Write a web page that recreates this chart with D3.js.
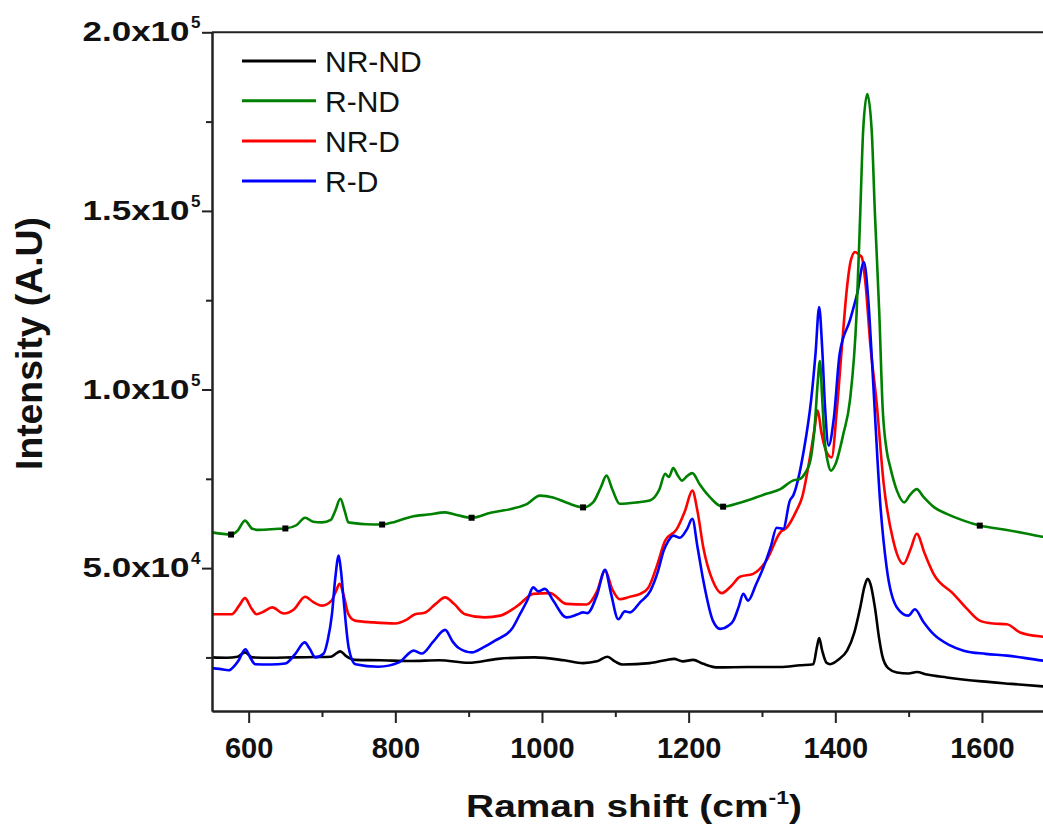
<!DOCTYPE html>
<html>
<head>
<meta charset="utf-8">
<script src="https://cdn.jsdelivr.net/npm/d3@7"></script>
<style>
  body { margin: 0; background: #fff; }
  text { font-family: Arial, "Liberation Sans", sans-serif; fill: #111; }
</style>
</head>
<body>
<div class="chart-box"></div>
<script>
// Raman spectra, [shift (cm-1), intensity / 1000]
const nrNd = [
  [550,25.0],[570,24.9],[585,25.2],[595,26.4],[605,25.0],[630,24.9],[660,25.0],[690,25.1],
  [712,25.2],[720,26.2],[725,26.7],[732,25.5],[745,24.3],[780,24.2],[820,24.0],[860,24.2],
  [900,23.5],[940,24.6],[990,25.0],[1030,24.2],[1056,23.4],[1075,23.9],[1089,25.2],[1100,23.8],
  [1110,23.0],[1147,23.4],[1170,24.3],[1180,24.6],[1192,23.9],[1206,24.3],[1220,23.2],[1240,22.2],
  [1280,22.3],[1325,22.3],[1352,22.8],[1370,23.1],[1375,28.0],[1378,30.4],[1382,27.0],[1388,23.5],
  [1393,23.1],[1405,24.5],[1416,26.9],[1426,32.0],[1434,39.0],[1440,45.0],[1444,47.0],[1448,45.5],
  [1454,39.0],[1460,30.0],[1464,25.5],[1472,22.0],[1484,20.8],[1500,20.5],[1511,20.9],[1525,20.2],
  [1552,19.4],[1600,18.3],[1640,17.6],[1700,16.6]
];
const rNd = [
  [550,60.0],[576,59.4],[585,60.5],[595,63.3],[605,61.0],[614,60.7],[640,61.0],[650,61.1],
  [665,62.0],[677,64.1],[688,63.0],[700,62.8],[712,63.5],[718,66.0],[725,69.4],[731,66.0],
  [736,62.8],[760,62.3],[782,62.2],[800,63.0],[822,64.4],[845,65.0],[868,65.6],[885,64.8],
  [904,64.1],[930,65.5],[959,66.6],[980,68.0],[997,70.3],[1015,69.8],[1035,68.2],[1056,67.0],
  [1070,68.5],[1080,72.5],[1088,75.9],[1096,72.0],[1106,68.0],[1130,68.4],[1147,68.9],[1160,72.0],
  [1168,76.4],[1173,75.5],[1179,78.0],[1185,76.0],[1191,74.5],[1198,75.8],[1205,76.6],[1215,73.5],
  [1225,70.8],[1247,67.2],[1270,68.3],[1306,70.8],[1325,72.1],[1342,74.5],[1352,75.0],[1360,77.0],
  [1366,80.1],[1372,90.0],[1376,102.0],[1379,108.0],[1382,98.0],[1385,87.0],[1390,79.5],[1394,77.3],
  [1400,79.0],[1411,87.6],[1420,97.0],[1429,121.2],[1434,149.3],[1438,172.6],[1443.6,182.7],
  [1449.6,172.6],[1454,149.3],[1460,121.2],[1464.5,95.1],[1470,83.0],[1475,78.2],[1484,71.7],
  [1494,68.4],[1502,70.5],[1511,72.1],[1520,70.0],[1535,67.0],[1552,65.2],[1575,63.3],[1597,61.9],
  [1630,60.8],[1660,59.7],[1683,58.8],[1700,58.5]
];
const nrD = [
  [550,37.1],[577,37.1],[587,39.5],[595,41.6],[603,39.0],[611,37.1],[620,37.8],[632,39.0],
  [648,37.3],[662,38.5],[677,42.0],[688,40.5],[700,39.5],[713,40.9],[719,43.5],[724,45.6],
  [730,42.0],[736,37.1],[745,35.3],[770,34.8],[800,34.5],[815,35.5],[827,37.1],[840,37.5],
  [855,40.0],[868,41.8],[880,40.0],[895,37.1],[922,36.2],[943,36.7],[960,38.5],[970,40.0],
  [988,42.8],[1011,43.0],[1033,40.0],[1061,39.8],[1075,43.5],[1086,49.3],[1096,44.0],[1106,41.3],
  [1120,42.0],[1134,42.8],[1145,44.5],[1156,50.2],[1168,57.7],[1184,61.0],[1195,66.0],[1205,71.7],
  [1212,66.0],[1220,55.8],[1233,46.4],[1245,43.0],[1258,45.0],[1270,47.6],[1288,48.4],[1306,52.1],
  [1325,60.0],[1334,61.4],[1347,66.1],[1355,70.0],[1363,78.2],[1371,88.0],[1376,94.1],[1381,88.0],
  [1388,82.5],[1395,81.0],[1402,94.0],[1409,111.9],[1416,128.7],[1421,136.0],[1427,138.5],
  [1432,137.8],[1436,137.1],[1441,130.0],[1448,112.0],[1456,97.0],[1466,73.6],[1479,57.7],
  [1493,51.2],[1503,55.5],[1511,59.6],[1522,54.0],[1534,48.4],[1561,42.8],[1580,38.5],[1597,35.3],
  [1615,34.5],[1634,34.3],[1652,32.0],[1683,30.8],[1700,30.5]
];
const rD = [
  [550,22.0],[560,21.8],[573,21.4],[580,22.5],[586,24.1],[595.5,27.3],[602,25.0],[609,23.1],
  [630,23.0],[650,23.3],[663.6,26.0],[676.4,29.2],[683,27.5],[691,25.0],[702,26.0],[708,30.0],
  [713.6,37.1],[718,47.0],[722.8,53.5],[726,49.0],[729.6,40.9],[736.4,27.7],[745.5,23.1],[777,22.4],
  [805,23.6],[825,26.9],[836,26.1],[852,29.5],[868,32.7],[878,29.5],[886,27.7],[904.5,26.4],
  [920,27.8],[936,29.7],[959,33.0],[970,37.1],[980,41.0],[988,44.6],[995,43.5],[1004,44.2],
  [1015,41.0],[1033.6,36.2],[1048,37.0],[1056,37.6],[1062,37.4],[1075,42.5],[1086,49.5],[1094,43.0],
  [1104,35.7],[1113,37.9],[1120,37.6],[1134,40.5],[1148,43.7],[1158,49.0],[1166,54.9],[1172,57.5],
  [1179,59.1],[1188,58.5],[1198,61.0],[1205,63.8],[1212,56.0],[1220,46.5],[1233,35.3],[1243,33.0],
  [1255,34.0],[1261,35.3],[1268,39.0],[1274.5,42.8],[1281,40.9],[1292,45.5],[1302,50.2],[1312,56.0],
  [1320,61.3],[1329,61.0],[1338,68.9],[1343,70.5],[1357,82.9],[1367,97.0],[1373,110.0],[1378,123.1],
  [1382,112.0],[1386,95.0],[1391,84.3],[1398,92.0],[1406,110.1],[1420,119.4],[1430,127.0],
  [1439,135.7],[1445,125.0],[1450,108.0],[1453,97.0],[1461,68.9],[1470,50.2],[1484,39.0],
  [1499.5,36.7],[1508.6,38.5],[1520,35.0],[1534,31.5],[1555,28.5],[1575,26.9],[1605,26.0],
  [1634,25.5],[1660,24.8],[1683,24.1],[1700,23.8]
];
// square symbols sitting on the R-ND trace
const rNdMarkers = [[576,59.4],[650,61.1],[782,62.2],[904,64.1],[1056,67.0],[1247,67.2],[1597,61.9]];

const seriesNames = ["NR-ND", "R-ND", "NR-D", "R-D"];
const seriesColors = ["#000000", "#008000", "#ff0000", "#0000ff"];
const xMajorTicks = [600, 800, 1000, 1200, 1400, 1600];
const xMinorTicks = [700, 900, 1100, 1300, 1500, 1700];
const yMajorTicks = [50, 100, 150, 200];
const yMinorTicks = [25, 75, 125, 175];

let width = 1043, height = 827;
let plot = {left: 212, right: 1055.3, top: 32.3, bottom: 711};

let svg = d3.select(".chart-box")
  .append("svg")
  .attr("width", width)
  .attr("height", height);

let x = d3.scaleLinear().domain([550, 1700]).range([plot.left, plot.right]);
let y = d3.scaleLinear().domain([10, 200]).range([plot.bottom, plot.top]);

svg.append("clipPath").attr("id", "plot-clip")
  .append("rect")
  .attr("x", plot.left).attr("y", plot.top)
  .attr("width", plot.right - plot.left).attr("height", plot.bottom - plot.top);

let line = d3.line()
  .x(d => x(d[0]))
  .y(d => y(d[1]))
  .curve(d3.curveMonotoneX);

let seriesData = {"NR-ND": nrNd, "R-ND": rNd, "NR-D": nrD, "R-D": rD};
let drawOrder = ["NR-ND", "NR-D", "R-D", "R-ND"];

let lines = svg.append("g").attr("clip-path", "url(#plot-clip)");
drawOrder.forEach(name => {
  lines.append("path")
    .datum(seriesData[name])
    .attr("d", line)
    .attr("fill", "none")
    .attr("stroke", seriesColors[seriesNames.indexOf(name)])
    .attr("stroke-width", 2.6)
    .attr("stroke-linejoin", "round");
});

lines.selectAll("rect.marker")
  .data(rNdMarkers)
  .enter()
  .append("rect")
  .attr("class", "marker")
  .attr("x", d => x(d[0]) - 3)
  .attr("y", d => y(d[1]) - 3)
  .attr("width", 6)
  .attr("height", 6)
  .attr("fill", "#000");

// axes
function styleAxis(g) {
  g.select(".domain").attr("stroke", "#222").attr("stroke-width", 2);
  g.selectAll(".tick line").attr("stroke", "#222").attr("stroke-width", 2);
}

svg.append("g")
  .attr("transform", `translate(0,${plot.bottom})`)
  .call(d3.axisBottom(x).tickValues(xMinorTicks).tickSize(6).tickSizeOuter(0).tickFormat(""))
  .call(styleAxis);

svg.append("g")
  .attr("transform", `translate(0,${plot.bottom})`)
  .call(d3.axisBottom(x).tickValues(xMajorTicks).tickSize(12).tickSizeOuter(0).tickPadding(14).tickFormat(d3.format("d")))
  .call(styleAxis)
  .call(g => g.selectAll(".tick text")
    .attr("font-size", 29).attr("font-weight", "bold").attr("fill", "#111"));

svg.append("g")
  .attr("transform", `translate(${plot.left},0)`)
  .call(d3.axisLeft(y).tickValues(yMinorTicks).tickSize(6).tickSizeOuter(0).tickFormat(""))
  .call(styleAxis);

svg.append("g")
  .attr("transform", `translate(${plot.left},0)`)
  .call(d3.axisLeft(y).tickValues(yMajorTicks).tickSize(10).tickSizeOuter(0).tickFormat(""))
  .call(styleAxis);

// top frame line
svg.append("line")
  .attr("x1", plot.left).attr("x2", plot.right)
  .attr("y1", plot.top).attr("y2", plot.top)
  .attr("stroke", "#222").attr("stroke-width", 2);

// y tick labels in "m.0x10^e" form
let yLabels = svg.append("g").selectAll("g")
  .data(yMajorTicks)
  .enter()
  .append("g")
  .attr("transform", d => `translate(0,${y(d)})`);

yLabels.append("text")
  .attr("x", 189.5)
  .attr("y", 9)
  .attr("text-anchor", "end")
  .attr("font-size", 28)
  .attr("font-weight", "bold")
  .attr("textLength", 107)
  .attr("lengthAdjust", "spacingAndGlyphs")
  .text(d => {
    let v = d * 1000, e = Math.floor(Math.log10(v));
    return (v / Math.pow(10, e)).toFixed(1) + "x10";
  });

yLabels.append("text")
  .attr("x", 191)
  .attr("y", -4)
  .attr("font-size", 17)
  .attr("font-weight", "bold")
  .text(d => Math.floor(Math.log10(d * 1000)));

// axis titles
let xTitle = svg.append("text")
  .attr("font-size", 32)
  .attr("font-weight", "bold")
  .attr("text-anchor", "middle");
xTitle.append("tspan").text("Raman shift (cm");
xTitle.append("tspan").attr("font-size", 19).attr("dy", -13).text("-1");
xTitle.append("tspan").attr("dy", 13).text(")");
let xw = xTitle.node().getComputedTextLength();
xTitle.attr("transform", `translate(634,817) scale(${336 / xw},1)`);

let yTitle = svg.append("text")
  .attr("font-size", 37)
  .attr("font-weight", "bold")
  .attr("text-anchor", "middle")
  .text("Intensity (A.U)");
let yw = yTitle.node().getComputedTextLength();
yTitle.attr("transform", `translate(41.5,343.5) rotate(-90) scale(${253 / yw},1)`);

// legend
let legend = svg.append("g").selectAll("g")
  .data(seriesNames)
  .enter()
  .append("g")
  .attr("transform", (d, i) => `translate(242,${[61, 100.7, 141, 181][i]})`);

legend.append("line")
  .attr("x1", 0).attr("x2", 74)
  .attr("stroke", (d, i) => seriesColors[i])
  .attr("stroke-width", 3);

legend.append("text")
  .attr("x", 83)
  .attr("y", 11)
  .attr("font-size", 30)
  .text(d => d);
</script>
</body>
</html>
